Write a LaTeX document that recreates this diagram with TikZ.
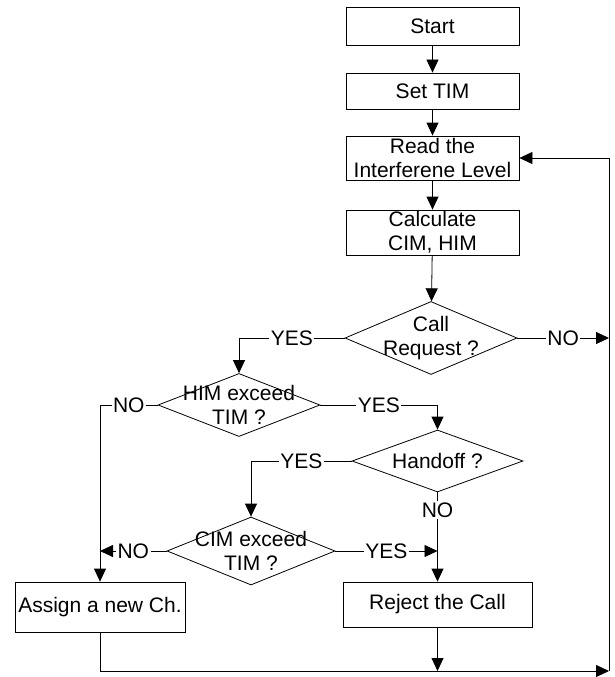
\documentclass[tikz,border=0pt]{standalone}
\usepackage{fontspec}
\setmainfont{Liberation Sans}
\usetikzlibrary{shapes.geometric,arrows.meta}

\tikzset{
  box/.style={draw, rectangle, align=center, inner sep=0pt},
  decision/.style={draw, diamond, inner sep=0pt},
  answer/.style={fill=white, inner sep=1.5pt},
}

\begin{document}
\begin{tikzpicture}[x=1pt, y=-1pt, line width=0.8pt,
    >={Triangle[length=13pt,width=12pt]},
    every node/.style={font=\fontsize{21}{24}\selectfont}]
  \useasboundingbox (0, 0) rectangle (615, 677);
  \pgfmathsetmacro{\cx}{432.5}
  \pgfmathsetmacro{\hx}{437.5}
  \pgfmathsetmacro{\lx}{100}
  \pgfmathsetmacro{\rx}{609}
  \pgfmathsetmacro{\by}{671}
  \node[box, minimum width=173, minimum height=38] (start) at (\cx, 26) {Start};
  \node[box, minimum width=173, minimum height=36] (settim) at (\cx, 91) {Set TIM};
  \node[box, minimum width=173, minimum height=44] (read) at (\cx, 158)
       {Read the\\Interferene Level};
  \node[box, minimum width=173, minimum height=45] (calc) at (\cx, 232.5)
       {Calculate\\CIM, HIM};
  \node[decision, minimum width=172, minimum height=73,
        label={[align=center]center:Call\\Request ?}] (call) at (431, 338) {};
  \node[decision, minimum width=162, minimum height=63,
        label={[align=center]center:HIM exceed\\TIM ?}] (him) at (239, 405) {};
  \node[decision, minimum width=171, minimum height=62,
        label={center:Handoff ?}] (handoff) at (\hx, 461) {};
  \node[decision, minimum width=168, minimum height=68,
        label={[align=center]center:CIM exceed\\TIM ?}] (cim) at (251, 551) {};
  \node[box, minimum width=170, minimum height=50] (assign) at (\lx, 607)
       {Assign a new Ch.};
  \node[box, minimum width=189, minimum height=45] (reject) at (\hx, 604.5)
       {Reject the Call};
  \coordinate (ret) at (\rx, \by);
  \draw[->] (start) -- (settim);
  \draw[->] (settim) -- (read);
  \draw[->] (read) -- (calc);
  \draw[->] (calc) -- (call);
  \draw[->] (call.west) -- node[answer] {YES} (call.west -| him.north) -- (him.north);
  \draw[->] (call.east) -- node[answer] {NO} (call.east -| ret);
  \draw[->] (him.west) -- node[answer] {NO} (him.west -| assign.north) -- (assign.north);
  \draw[->] (him.east) -- node[answer] {YES} (him.east -| handoff.north) -- (handoff.north);
  \draw[->] (handoff.west) -- node[answer] {YES} (handoff.west -| cim.north) -- (cim.north);
  \draw[->] (handoff.south) -- node[answer, pos=0.2] {NO} (reject.north);
  \draw[->] (cim.west) -- node[answer] {NO} (cim.west -| assign.north);
  \draw[->] (cim.east) -- node[answer] {YES} (cim.east -| reject.north);
  \draw[->] (assign.south) -- (assign.south |- ret) -- (ret);
  \draw[->] (reject.south) -- (reject.south |- ret);
  \draw[->] (ret) -- (ret |- read.east) -- (read.east);
\end{tikzpicture}
\end{document}
